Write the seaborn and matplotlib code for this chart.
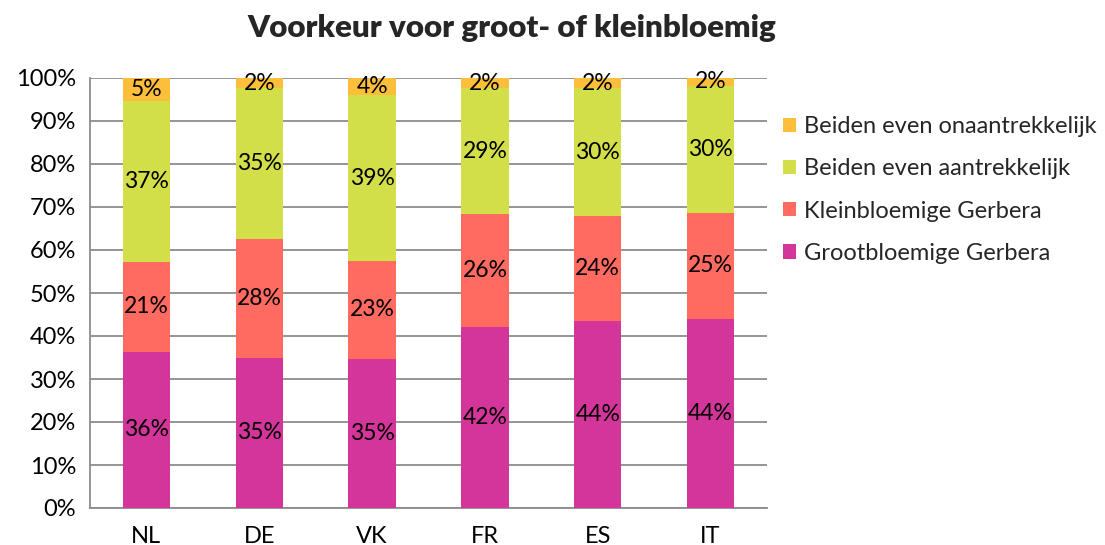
import numpy as np
import pandas as pd
import matplotlib
matplotlib.use("Agg")
import matplotlib.pyplot as plt
import seaborn as sns
from matplotlib.patches import Patch
from matplotlib.ticker import FixedLocator

categories = ["NL", "DE", "VK", "FR", "ES", "IT"]
groot = [36.3, 34.9, 34.7, 42.1, 43.6, 44.0]
klein = [20.9, 27.7, 22.7, 26.3, 24.2, 24.6]
aantrekkelijk = [37.4, 35.0, 38.6, 29.2, 29.8, 29.6]
onaantrekkelijk = [5.3, 2.4, 4.0, 2.4, 2.4, 1.8]
series_names = ["Grootbloemige Gerbera", "Kleinbloemige Gerbera",
                "Beiden even aantrekkelijk", "Beiden even onaantrekkelijk"]
colors = ["#D4359B", "#FF6A61", "#D3DF48", "#FDBF3B"]
title = "Voorkeur voor groot- of kleinbloemig"

sns.set_theme(style="white")
plt.rcParams["font.family"] = ["Lato", "DejaVu Sans"]

series = [groot, klein, aantrekkelijk, onaantrekkelijk]
vals = np.array(series, dtype=float)
vals = vals / vals.sum(axis=0) * 100.0
cum = np.cumsum(vals, axis=0)

fig = plt.figure(figsize=(11.05, 5.45), dpi=100)
ax = fig.add_axes([90 / 1105, 37 / 545, 677 / 1105, 430 / 545])

for i in range(len(series) - 1, -1, -1):
    df = pd.DataFrame({"cat": categories, "val": cum[i]})
    sns.barplot(data=df, x="cat", y="val", color=colors[i], saturation=1,
                width=0.42, ax=ax, linewidth=0, zorder=3)

for i in range(len(series)):
    for j in range(len(categories)):
        center = cum[i][j] - vals[i][j] / 2
        ax.text(j, center, f"{series[i][j]:.0f}%", ha="center", va="center",
                fontsize=16.5, color="black", zorder=5)

ax.set_xlim(-0.5, len(categories) - 0.5)
ax.set_ylim(0, 100)
ax.set_yticks(np.arange(0, 101, 10))
ax.set_yticklabels([f"{v}%" for v in range(0, 101, 10)], fontsize=17)
ax.set_xticks(range(len(categories)))
ax.set_xticklabels(categories, fontsize=17)
ax.xaxis.set_minor_locator(FixedLocator(np.arange(-0.5, len(categories), 1.0)))
ax.tick_params(axis="x", which="major", length=0, pad=13, colors="black")
ax.tick_params(axis="x", which="minor", length=6, width=1.3, color="#8C8C8C", direction="out")
ax.tick_params(axis="y", which="major", length=6, width=1.3, color="#8C8C8C", direction="out",
               pad=4, labelcolor="black")
ax.set_xlabel("")
ax.set_ylabel("")
ax.set_axisbelow(True)
ax.yaxis.grid(True, color="#8C8C8C", linewidth=1.3, zorder=0)
ax.xaxis.grid(False)
for s in ["top", "right"]:
    ax.spines[s].set_visible(False)
for s in ["left", "bottom"]:
    ax.spines[s].set_color("#8C8C8C")
    ax.spines[s].set_linewidth(1.3)

handles = [Patch(facecolor=colors[i], edgecolor="none", label=series_names[i])
           for i in range(len(series) - 1, -1, -1)]
fig.legend(handles=handles, loc="upper left", bbox_to_anchor=(783 / 1105, 1 - 116 / 545),
           frameon=False, fontsize=17, handlelength=0.55, handleheight=0.55,
           handletextpad=0.35, labelspacing=0.9, borderaxespad=0, borderpad=0)

fig.text(512 / 1105, 1 - 28 / 545, title, ha="center", va="center",
         fontsize=22.5, fontweight="heavy")

fig.savefig("out.png", dpi=100)
